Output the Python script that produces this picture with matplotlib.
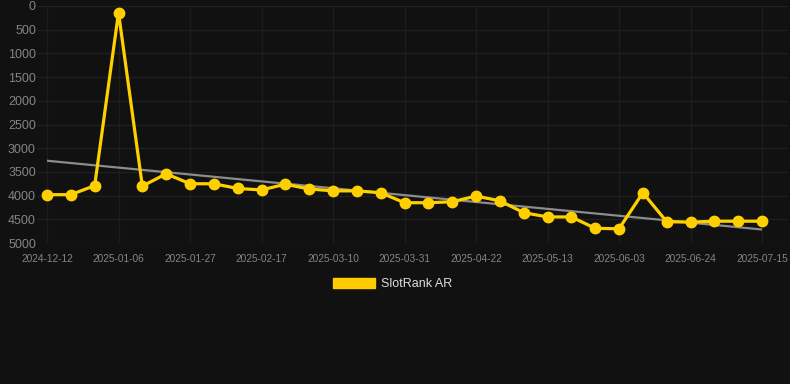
import numpy as np
import matplotlib
matplotlib.use("Agg")
import matplotlib.pyplot as plt
from matplotlib.patches import Patch

plt.rcParams['font.family'] = ['Liberation Sans', 'DejaVu Sans']

# ---- data ----
rank_values = [3980, 3980, 3790, 140, 3800, 3540, 3750, 3750, 3850, 3880,
               3760, 3860, 3900, 3900, 3940, 4150, 4150, 4130, 4010, 4110,
               4360, 4450, 4450, 4690, 4700, 3940, 4550, 4560, 4540, 4540, 4540]
tick_labels = ["2024-12-12", "2025-01-06", "2025-01-27", "2025-02-17",
               "2025-03-10", "2025-03-31", "2025-04-22", "2025-05-13",
               "2025-06-03", "2025-06-24", "2025-07-15"]
y_ticks = [0, 500, 1000, 1500, 2000, 2500, 3000, 3500, 4000, 4500, 5000]
series_name = "SlotRank AR"

BG = "#111111"
GRID = "#202020"
TXT = "#858585"
YEL = "#FFD000"

fig = plt.figure(figsize=(7.9, 3.84), dpi=100, facecolor=BG)
ax = fig.add_axes([38 / 790, 1 - 243 / 384, 750 / 790, 237 / 384])
ax.set_facecolor(BG)

x = np.arange(len(rank_values))
y = np.array(rank_values, dtype=float)

# trend line (linear regression)
k, b = np.polyfit(x, y, 1)
ax.plot([x[0], x[-1]], [k * x[0] + b, k * x[-1] + b], color="#8c8c8c",
        lw=1.6, zorder=2, solid_capstyle="butt")

ax.plot(x, y, color=YEL, lw=2.3, marker="o", markersize=7.5,
        markerfacecolor=YEL, markeredgecolor=YEL, solid_joinstyle="miter",
        zorder=3)

ax.set_ylim(5000, 0)
ax.set_xlim(-0.378, 31.09)
ax.set_yticks(y_ticks)
ax.set_yticklabels([str(v) for v in y_ticks])
tick_pos = x[::3]
ax.set_xticks(tick_pos)
ax.set_xticklabels(tick_labels)

ax.grid(True, axis="y", color=GRID, lw=1)
ax.grid(True, axis="x", color="#1c1c1c", lw=1)
ax.set_axisbelow(True)
for s in ax.spines.values():
    s.set_visible(False)
ax.tick_params(axis="y", length=0, pad=1.5, labelsize=9, labelcolor=TXT)
ax.tick_params(axis="x", length=0, pad=8, labelsize=7.3, labelcolor=TXT)

handle = Patch(facecolor="#FFCC00", edgecolor="#FFCC00", label=series_name)
leg = fig.legend(handles=[handle], loc="center", bbox_to_anchor=(393 / 790, 1 - 284 / 384),
                 frameon=False, fontsize=9, handlelength=3.33, handleheight=0.9,
                 handletextpad=0.5, labelcolor="#dddddd")

fig.savefig("out.png", dpi=100, facecolor=BG)
